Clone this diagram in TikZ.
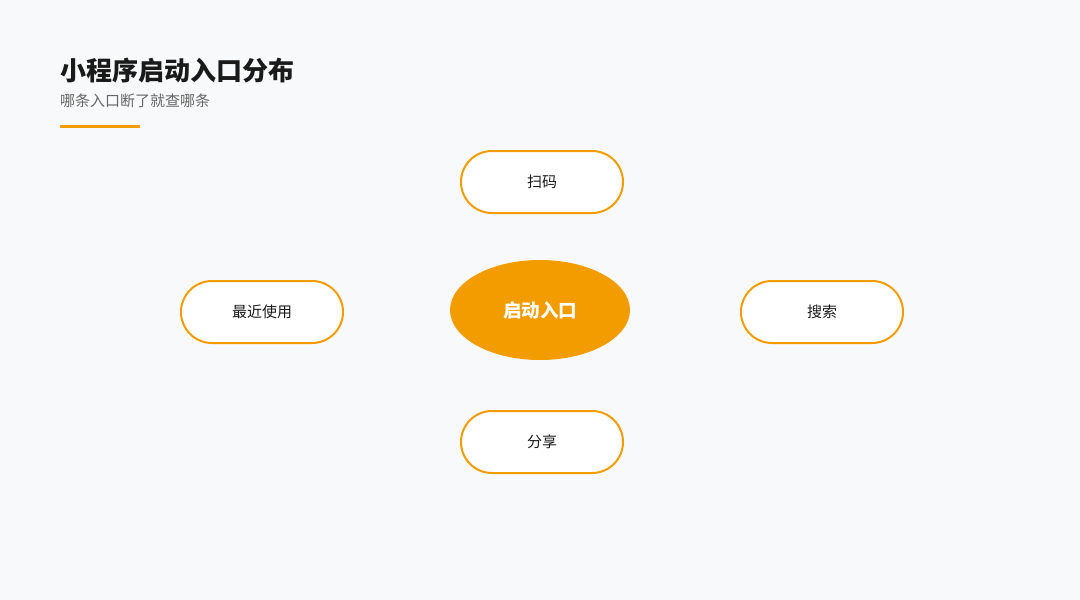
\documentclass[tikz,border=0pt]{standalone}
\usepackage{fontspec}
\setmainfont{Noto Sans CJK SC}
\usetikzlibrary{shapes.geometric}
\definecolor{bg}{HTML}{F8F9FA}
\definecolor{accent}{HTML}{F39C00}
\definecolor{ink}{HTML}{1A1A1A}
\definecolor{sub}{HTML}{666666}
\tikzset{
  pill/.style={draw=accent, line width=2pt, fill=white, rounded corners=31pt,
    minimum width=162pt, minimum height=62pt, inner sep=0pt,
    font=\fontsize{15pt}{17pt}\selectfont, text=ink},
  hub/.style={ellipse, fill=accent, minimum width=180pt, minimum height=100pt,
    inner sep=0pt, text=white, font=\fontsize{18.5pt}{21pt}\selectfont\bfseries},
}
\begin{document}
\begin{tikzpicture}[x=1pt,y=-1pt]
\useasboundingbox[fill=bg] (0,0) rectangle (1080,600);
\node[anchor=base west, font=\fontsize{26pt}{30pt}\selectfont\bfseries, text=ink, inner sep=0pt] (title) at (60,80) {小程序启动入口分布};
\node[anchor=base west, font=\fontsize{15pt}{17pt}\selectfont, text=sub, inner sep=0pt] (subtitle) at (60,106) {哪条入口断了就查哪条};
\draw[accent, line width=3pt] (60,126) -- (140,126);
\node[hub] (center) at (540,310) {启动入口};
\node[pill] (scan) at (542,182) {扫码};
\node[pill] (recent) at (262,312) {最近使用};
\node[pill] (search) at (822,312) {搜索};
\node[pill] (share) at (542,442) {分享};
\end{tikzpicture}
\end{document}
